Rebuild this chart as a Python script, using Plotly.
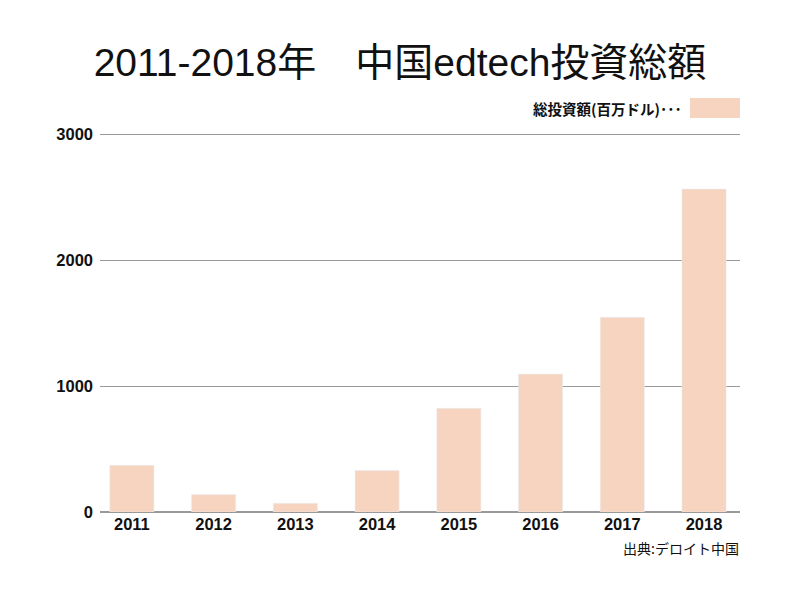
import plotly.graph_objects as go

years = ["2011", "2012", "2013", "2014", "2015", "2016", "2017", "2018"]
investment = [372, 138, 69, 329, 823, 1095, 1545, 2563]
y_ticks = [0, 1000, 2000, 3000]

title_text = "2011-2018年　中国edtech投資総額"
legend_text = "総投資額(百万ドル)･･･"
source_text = "出典:デロイト中国"

bar_color = "#F7D4C0"
cjk = "Noto Sans CJK JP"
latin_cjk = "Liberation Sans, Noto Sans CJK JP"

# plot area in layout pixels
L, R, T, B = 92, 732, 121, 504
W, H = R - L, B - T


def px(x):
    return (x - L) / W


def py(y):
    return (B - y) / H


fig = go.Figure()
fig.add_trace(go.Bar(
    x=years, y=investment, marker_color=bar_color, width=0.54,
    showlegend=False,
))

tick_font = dict(family="Liberation Sans", size=16.5, color="#111", weight="bold")

fig.update_layout(
    width=800, height=600,
    margin=dict(l=L, r=800 - R, t=T, b=600 - B),
    plot_bgcolor="white", paper_bgcolor="white",
    title=dict(text=title_text, x=392 / 800, xanchor="center", y=1 - 54 / 600, yanchor="middle",
               font=dict(family=latin_cjk, size=39, color="#111")),
    xaxis=dict(range=[-0.39, 7.44], showgrid=False, showline=False, ticks="",
               tickfont=tick_font),
    yaxis=dict(range=[0, 3040], tickvals=y_ticks, showgrid=True, gridcolor="#999999",
               gridwidth=1, zeroline=True, zerolinecolor="#999999", zerolinewidth=1.5,
               showline=False, ticks="", ticklabelstandoff=6,
               tickfont=tick_font),
    bargap=0.46,
)

fig.add_shape(type="rect", xref="paper", yref="paper",
              x0=px(682), x1=px(732), y0=py(110), y1=py(90),
              fillcolor=bar_color, line=dict(width=0))
fig.add_annotation(text=legend_text, xref="paper", yref="paper",
                   x=px(676), y=py(100), xanchor="right", yanchor="middle",
                   showarrow=False, font=dict(family=cjk, size=14.5, color="#111", weight="bold"))
fig.add_annotation(text=source_text, xref="paper", yref="paper",
                   x=px(733), y=py(540), xanchor="right", yanchor="middle",
                   showarrow=False, font=dict(family=cjk, size=14, color="#111"))

fig.write_html("out.html")
